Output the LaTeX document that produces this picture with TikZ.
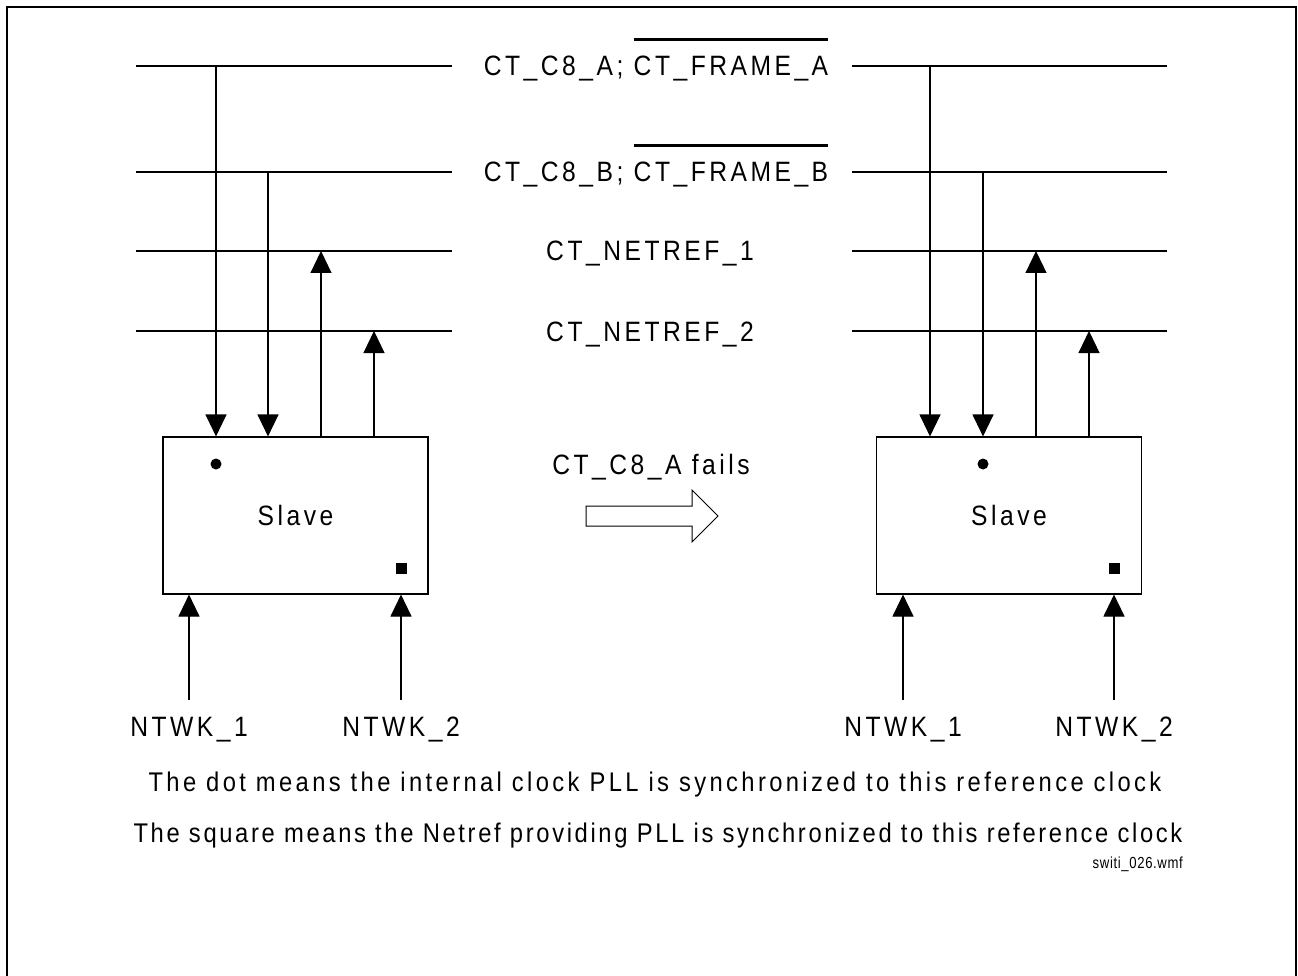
\documentclass[tikz,border=0pt]{standalone}
\usepackage{fontspec}
\setmainfont{Liberation Sans}
\newfontfamily\capsfont[LetterSpace=12.5,FakeStretch=0.88]{Liberation Sans}
\newfontfamily\bodyfontA[LetterSpace=12.5,FakeStretch=0.88]{Liberation Sans}
\newfontfamily\bodyfontB[LetterSpace=9.8,FakeStretch=0.88]{Liberation Sans}
\newfontfamily\smallfont[LetterSpace=4,FakeStretch=0.82]{Liberation Sans}
\usetikzlibrary{arrows.meta}
\newcommand\myovl[1]{\sbox0{#1}\rlap{\raisebox{1.25em}{\rule{\wd0}{2.6pt}}}\usebox0}
\tikzset{
  bus/.style={line width=1.1pt},
  wire/.style={line width=1.1pt, -{Triangle[width=21pt,length=22pt]}},
  lbl/.style={inner sep=0pt, anchor=base, font=\fontsize{28}{32}\selectfont\capsfont},
  bodyA/.style={inner sep=0pt, anchor=base, font=\fontsize{27}{31}\selectfont\bodyfontA},
  bodyB/.style={inner sep=0pt, anchor=base, font=\fontsize{27}{31}\selectfont\bodyfontB},
  slave/.style={draw, line width=1.1pt, minimum width=265pt, minimum height=157pt, inner sep=0pt, font=\fontsize{28}{32}\selectfont\capsfont},
}
\begin{document}
\begin{tikzpicture}[x=1pt,y=-1pt]
\useasboundingbox (0,0) rectangle (1298,976);
\draw[line width=2.5pt] (7,976) -- (7,7) -- (1296,7) -- (1296,976);

% bus labels
\node[lbl] (la) at (656,76) {CT\_C8\_A; \myovl{CT\_FRAME\_A}};
\node[lbl] (lb) at (656,182) {CT\_C8\_B; \myovl{CT\_FRAME\_B}};
\node[lbl] (lc) at (650,261) {CT\_NETREF\_1};
\node[lbl] (ld) at (650,341) {CT\_NETREF\_2};

% bus line ends
\coordinate (aL1) at (136,66);  \coordinate (aL2) at (452,66);
\coordinate (aR1) at (852,66);  \coordinate (aR2) at (1167,66);
\coordinate (bL1) at (136,172); \coordinate (bL2) at (452,172);
\coordinate (bR1) at (852,172); \coordinate (bR2) at (1167,172);
\coordinate (cL1) at (136,251); \coordinate (cL2) at (452,251);
\coordinate (cR1) at (852,251); \coordinate (cR2) at (1167,251);
\coordinate (dL1) at (136,331); \coordinate (dL2) at (452,331);
\coordinate (dR1) at (852,331); \coordinate (dR2) at (1167,331);
\foreach \n in {a,b,c,d} {
  \draw[bus] (\n L1) -- (\n L2);
  \draw[bus] (\n R1) -- (\n R2);
}

% boxes
\node[slave] (L) at (295.5,515.5) {Slave};
\node[slave] (R) at (1009,515.5) {Slave};

% taps
\coordinate (tLa) at (216,66);  \coordinate (tLb) at (268,172);
\coordinate (tLc) at (321,251); \coordinate (tLd) at (374,331);
\coordinate (tRa) at (930,66);  \coordinate (tRb) at (983,172);
\coordinate (tRc) at (1036,251);\coordinate (tRd) at (1089,331);

\draw[wire] (tLa) -- (tLa |- L.north);
\draw[wire] (tLb) -- (tLb |- L.north);
\draw[wire] (tLc |- L.north) -- (tLc);
\draw[wire] (tLd |- L.north) -- (tLd);
\draw[wire] (tRa) -- (tRa |- R.north);
\draw[wire] (tRb) -- (tRb |- R.north);
\draw[wire] (tRc |- R.north) -- (tRc);
\draw[wire] (tRd |- R.north) -- (tRd);

% markers
\fill (216,464) circle (5.5pt);
\fill (395.5,562.5) rectangle (406.5,573.5);
\fill (983,464) circle (5.5pt);
\fill (1108.5,562.5) rectangle (1119.5,573.5);

% network inputs
\node[lbl] (n1) at (189,736) {NTWK\_1};
\node[lbl] (n2) at (401,736) {NTWK\_2};
\node[lbl] (n3) at (903,736) {NTWK\_1};
\node[lbl] (n4) at (1114,736) {NTWK\_2};
\coordinate (s1) at (189,700);
\coordinate (s2) at (401,700);
\coordinate (s3) at (903,700);
\coordinate (s4) at (1114,700);
\draw[wire] (s1) -- (s1 |- L.south);
\draw[wire] (s2) -- (s2 |- L.south);
\draw[wire] (s3) -- (s3 |- R.south);
\draw[wire] (s4) -- (s4 |- R.south);

% transition
\node[lbl] (fail) at (651,474) {CT\_C8\_A fails};
\draw[line width=1pt] (586,506) -- (692,506) -- (692,490) -- (718,516) -- (692,542) -- (692,526) -- (586,526) -- cycle;

% legend
\node[bodyA] (t1) at (655,791) {The dot means the internal clock PLL is synchronized to this reference clock};
\node[bodyB] (t2) at (658,842) {The square means the Netref providing PLL is synchronized to this reference clock};
\node[inner sep=0pt, anchor=base east, font=\fontsize{16}{19}\selectfont\smallfont] (fn) at (1183,868) {switi\_026.wmf};
\end{tikzpicture}
\end{document}
